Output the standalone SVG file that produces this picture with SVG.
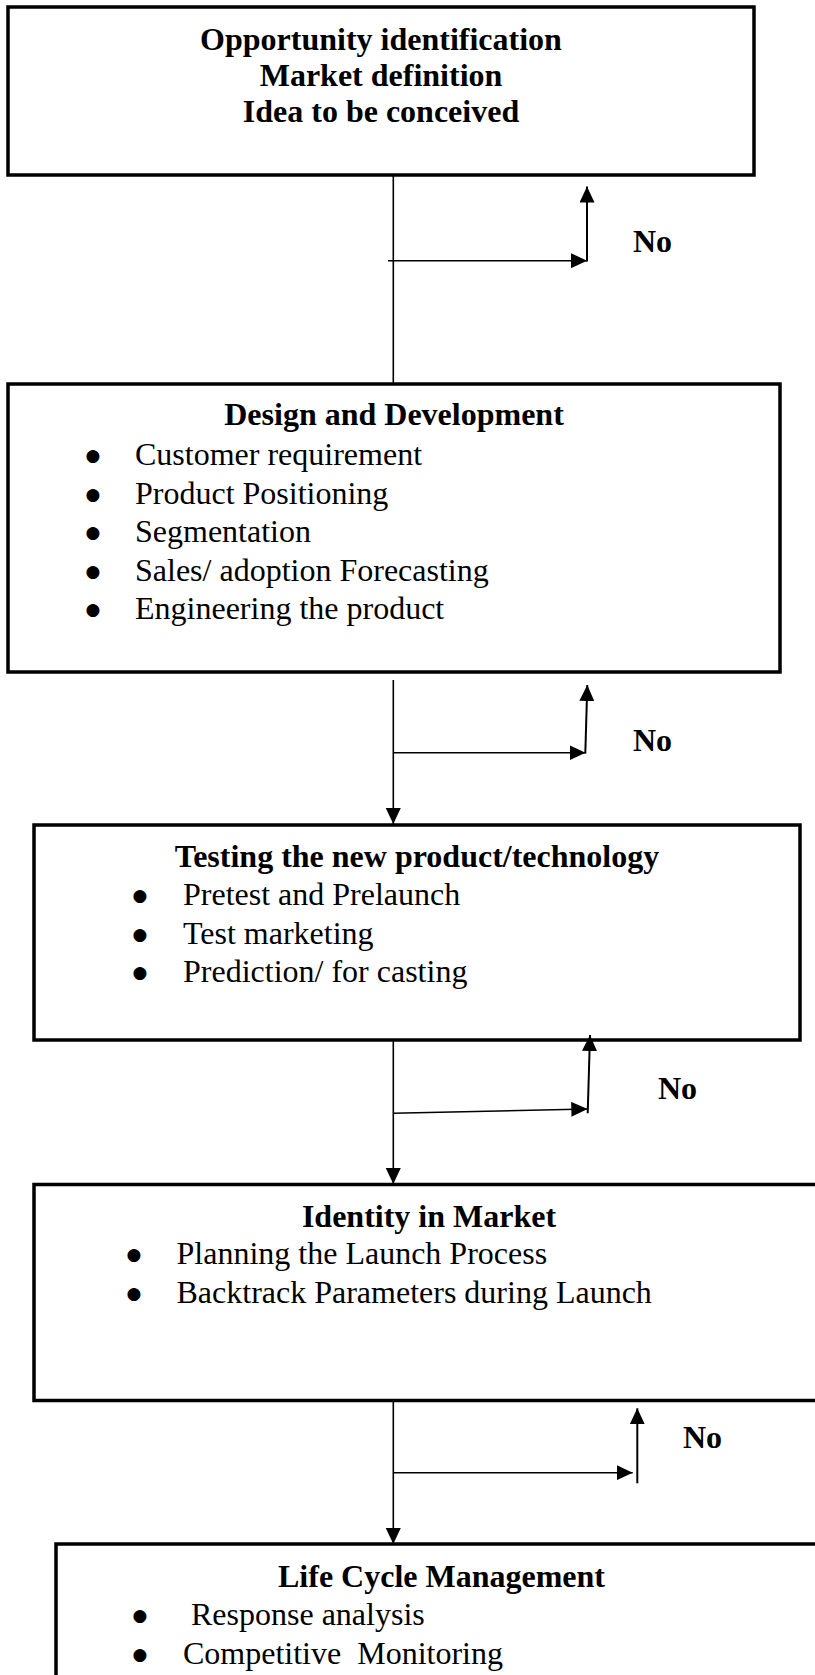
<svg xmlns="http://www.w3.org/2000/svg" width="815" height="1675" viewBox="0 0 815 1675">
  <style>
    .box { fill: #fff; stroke: #000; stroke-width: 3.5; }
    .title { font-family: "Liberation Serif", "Times New Roman", serif; font-size: 32px; font-weight: bold; fill: #000; text-anchor: middle; }
    .item { font-family: "Liberation Serif", "Times New Roman", serif; font-size: 32px; fill: #000; }
    .dot { font-family: "DejaVu Sans", sans-serif; font-size: 17px; fill: #000; text-anchor: middle; }
    .no { font-family: "Liberation Serif", "Times New Roman", serif; font-size: 32px; font-weight: bold; fill: #000; }
    .flow { fill: none; stroke: #000; stroke-width: 1.6; }
    .back { fill: none; stroke: #000; stroke-width: 2; }
  </style>
  <defs>
    <marker id="arrow" markerUnits="userSpaceOnUse" markerWidth="16" markerHeight="15" refX="16" refY="7.5" orient="auto">
      <path d="M0,0 L16,7.5 L0,15 z" fill="#000"/>
    </marker>
  </defs>

  <rect width="815" height="1675" fill="#fff"/>

  <!-- Stage 1 -->
  <g id="opportunity">
    <rect class="box" x="8" y="7" width="746" height="168"/>
    <text class="title" x="381" y="50">Opportunity identification</text>
    <text class="title" x="381" y="86">Market definition</text>
    <text class="title" x="381" y="122">Idea to be conceived</text>
  </g>

  <!-- Stage 2 -->
  <g id="design">
    <rect class="box" x="8" y="384" width="772" height="288"/>
    <text class="title" x="394" y="425">Design and Development</text>
    <text class="dot" x="93" y="461">●</text>
    <text class="item" x="135" y="465">Customer requirement</text>
    <text class="dot" x="93" y="499.5">●</text>
    <text class="item" x="135" y="503.5">Product Positioning</text>
    <text class="dot" x="93" y="538">●</text>
    <text class="item" x="135" y="542">Segmentation</text>
    <text class="dot" x="93" y="576.5">●</text>
    <text class="item" x="135" y="580.5">Sales/ adoption Forecasting</text>
    <text class="dot" x="93" y="615">●</text>
    <text class="item" x="135" y="619">Engineering the product</text>
  </g>

  <!-- Stage 3 -->
  <g id="testing">
    <rect class="box" x="34" y="825" width="766" height="215"/>
    <text class="title" x="417" y="867">Testing the new product/technology</text>
    <text class="dot" x="140" y="901">●</text>
    <text class="item" x="183" y="905">Pretest and Prelaunch</text>
    <text class="dot" x="140" y="939.5">●</text>
    <text class="item" x="183" y="943.5">Test marketing</text>
    <text class="dot" x="140" y="978">●</text>
    <text class="item" x="183" y="982">Prediction/ for casting</text>
  </g>

  <!-- Stage 4 -->
  <g id="identity">
    <rect class="box" x="34" y="1184.5" width="790" height="216"/>
    <text class="title" x="429" y="1227">Identity in Market</text>
    <text class="dot" x="134" y="1260">●</text>
    <text class="item" x="176.5" y="1264">Planning the Launch Process</text>
    <text class="dot" x="134" y="1299">●</text>
    <text class="item" x="176.5" y="1303">Backtrack Parameters during Launch</text>
  </g>

  <!-- Stage 5 -->
  <g id="lifecycle">
    <rect class="box" x="56" y="1544" width="771" height="200"/>
    <text class="title" x="441.5" y="1587">Life Cycle Management</text>
    <text class="dot" x="140" y="1621">●</text>
    <text class="item" x="191" y="1625">Response analysis</text>
    <text class="dot" x="140" y="1659.5">●</text>
    <text class="item" x="183" y="1663.5" style="white-space:pre">Competitive  Monitoring</text>
  </g>

  <!-- Connectors -->
  <g id="connectors">
    <!-- 1 -> 2 -->
    <line class="flow" x1="393.3" y1="175" x2="393.3" y2="384"/>
    <line class="flow" x1="388" y1="260.7" x2="587" y2="260.7" marker-end="url(#arrow)"/>
    <line class="back" x1="587" y1="261.5" x2="587" y2="186.5" marker-end="url(#arrow)"/>

    <!-- 2 -> 3 -->
    <line class="flow" x1="393.3" y1="680" x2="393.3" y2="824" marker-end="url(#arrow)"/>
    <line class="flow" x1="393.3" y1="752.7" x2="585.5" y2="752.7" marker-end="url(#arrow)"/>
    <line class="back" x1="585.3" y1="753.5" x2="587.3" y2="685" marker-end="url(#arrow)"/>

    <!-- 3 -> 4 -->
    <line class="flow" x1="393.3" y1="1041" x2="393.3" y2="1184" marker-end="url(#arrow)"/>
    <line class="flow" x1="393.3" y1="1113.3" x2="587.3" y2="1109" marker-end="url(#arrow)"/>
    <line class="back" x1="587.7" y1="1113.3" x2="590" y2="1035" marker-end="url(#arrow)"/>

    <!-- 4 -> 5 -->
    <line class="flow" x1="393.3" y1="1400" x2="393.3" y2="1544" marker-end="url(#arrow)"/>
    <line class="flow" x1="393.3" y1="1472.7" x2="632.7" y2="1472.7" marker-end="url(#arrow)"/>
    <line class="back" x1="637.3" y1="1483.3" x2="637.3" y2="1408.3" marker-end="url(#arrow)"/>
  </g>

  <!-- Rejection labels -->
  <g id="labels">
    <text class="no" x="633" y="252">No</text>
    <text class="no" x="633" y="751">No</text>
    <text class="no" x="658" y="1099">No</text>
    <text class="no" x="683" y="1448">No</text>
  </g>
</svg>
